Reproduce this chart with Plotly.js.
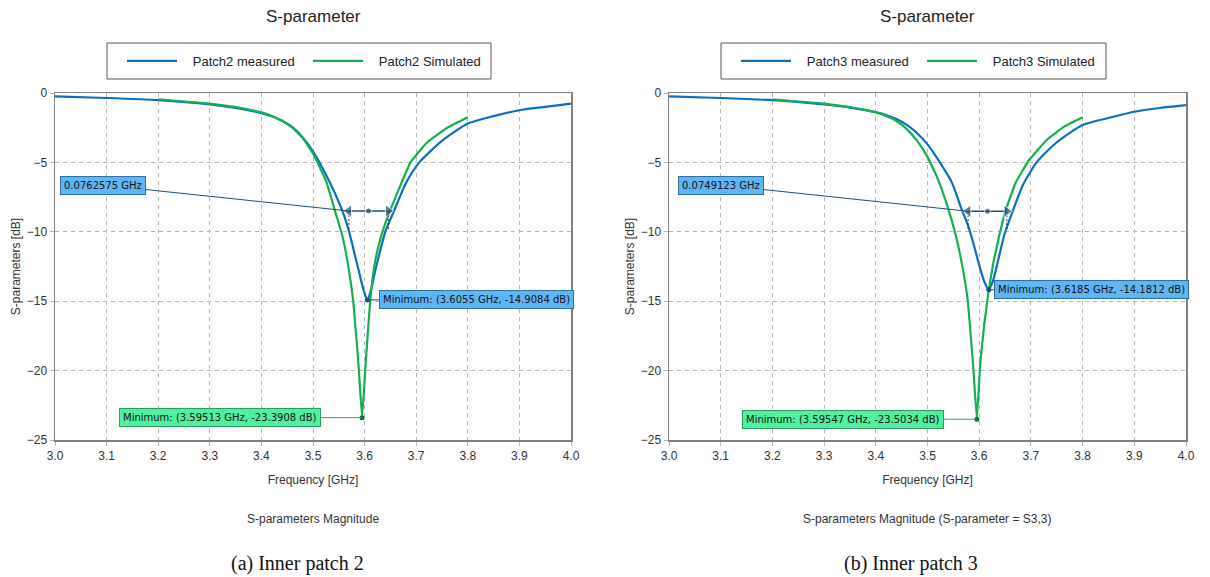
<!DOCTYPE html>
<html>
<head>
<meta charset="utf-8">
<script src="https://cdn.plot.ly/plotly-3.0.1.min.js"></script>
<style>html,body{margin:0;padding:0;background:#fff;}#chart{width:1210px;height:577px;}</style>
</head>
<body>
<div id="chart"></div>
<script>
// ---------------- data ----------------
const p2MeasFreq = [3.0,3.1,3.2,3.3,3.35,3.4,3.42,3.44,3.46,3.48,3.5,3.532,3.558,3.57,3.58,3.59,3.598,3.6055,3.613,3.62,3.63,3.64,3.657,3.68,3.706,3.75,3.8,3.85,3.9,3.95,4.0];
const p2MeasDb   = [-0.24,-0.36,-0.52,-0.83,-1.08,-1.45,-1.68,-2.0,-2.45,-3.2,-4.2,-6.4,-8.6,-10.0,-11.5,-13.0,-14.2,-14.9084,-14.1,-12.9,-11.4,-10.0,-8.5,-6.5,-5.0,-3.45,-2.2,-1.67,-1.24,-1.0,-0.76];
const p2SimFreq  = [3.2,3.3,3.35,3.4,3.42,3.44,3.46,3.48,3.5,3.526,3.545,3.557,3.568,3.578,3.588,3.59513,3.602,3.611,3.62,3.63,3.64,3.65,3.67,3.689,3.72,3.76,3.8];
const p2SimDb    = [-0.45,-0.76,-1.02,-1.4,-1.65,-2.0,-2.5,-3.25,-4.35,-6.4,-8.8,-10.3,-12.4,-15.0,-19.5,-23.3908,-19.5,-14.9,-12.2,-10.6,-9.4,-8.4,-6.6,-5.0,-3.6,-2.5,-1.74];

const p3MeasFreq = [3.0,3.1,3.2,3.3,3.35,3.4,3.42,3.44,3.46,3.48,3.5,3.524,3.547,3.566,3.578,3.59,3.6,3.61,3.6185,3.627,3.637,3.648,3.665,3.685,3.711,3.75,3.8,3.85,3.9,3.95,4.0];
const p3MeasDb   = [-0.24,-0.36,-0.52,-0.83,-1.05,-1.38,-1.58,-1.88,-2.3,-2.9,-3.7,-5.0,-6.44,-8.37,-9.5,-11.0,-12.4,-13.6,-14.1812,-13.5,-12.0,-10.3,-8.5,-6.6,-5.0,-3.55,-2.3,-1.8,-1.35,-1.08,-0.88];
const p3SimFreq  = [3.2,3.3,3.35,3.4,3.42,3.44,3.46,3.48,3.5,3.52,3.539,3.555,3.568,3.578,3.588,3.59547,3.602,3.61,3.6185,3.628,3.638,3.65,3.67,3.695,3.73,3.765,3.8];
const p3SimDb    = [-0.45,-0.76,-1.02,-1.4,-1.65,-2.02,-2.6,-3.45,-4.6,-6.2,-8.2,-10.3,-12.6,-15.0,-19.5,-23.5034,-19.5,-16.6,-14.2,-12.1,-10.4,-8.6,-6.5,-4.9,-3.4,-2.4,-1.74];

const seriesNames = [["Patch2 measured","Patch2 Simulated"],["Patch3 measured","Patch3 Simulated"]];
const measMin = [[3.6055,-14.9084],[3.6185,-14.1812]];
const simMin  = [[3.59513,-23.3908],[3.59547,-23.5034]];
const bwWidth  = [0.0762575,0.0749123];
const bwCenter = [3.6077,3.616];
const bwLevel  = [-8.5,-8.52];
const bwFloor  = [-9.8,-9.8];
const xTicks = [3.0,3.1,3.2,3.3,3.4,3.5,3.6,3.7,3.8,3.9,4.0];
const yTicks = [0,-5,-10,-15,-20,-25];
const subtitles = ["S-parameters Magnitude","S-parameters Magnitude (S-parameter = S3,3)"];
const captions = ["(a) Inner patch 2","(b) Inner patch 3"];
const chartTitle = "S-parameter";

// ---------------- styling ----------------
const W = 1210, H = 577;
const BLUE = "#0b6fc1", GREEN = "#12b04f", DARK = "#1b4f7c";
const BOXBLUE = "#5fb6f5", BOXGREEN = "#4ff0a0";
const font = "Liberation Sans, Arial, sans-serif";
const px = v => v / W, py = v => 1 - v / H;
const NB = "\u00a0\u00a0\u00a0";

const xDom = [[px(55), px(571)], [px(669), px(1186)]];
const yDom = [py(440), py(93)];

const meas = [[p2MeasFreq,p2MeasDb],[p3MeasFreq,p3MeasDb]];
const sims = [[p2SimFreq,p2SimDb],[p3SimFreq,p3SimDb]];

const traces = [];
const annotations = [];
const shapes = [];
const layout = {
  width: W, height: H,
  margin: {l:0,r:0,t:0,b:0,autoexpand:false},
  paper_bgcolor: "#fff", plot_bgcolor: "#fff",
  showlegend: true,
  font: {family: font, size: 12, color: "#333"},
  annotations, shapes
};

for (let i = 0; i < 2; i++) {
  const xa = i === 0 ? "x" : "x2", ya = i === 0 ? "y" : "y2";
  const xk = i === 0 ? "xaxis" : "xaxis2", yk = i === 0 ? "yaxis" : "yaxis2";
  const lg = i === 0 ? "legend" : "legend2";
  const common = {
    showline: true, mirror: true, linecolor: "#808080", linewidth: 1.5,
    showgrid: true, gridcolor: "#b5b5b5", griddash: "4px,4px", gridwidth: 1,
    zeroline: false, ticks: "outside", ticklen: 4, tickcolor: "#b5b5b5",
    tickfont: {family: font, size: 12, color: "#333"}, automargin: false, fixedrange: true
  };
  layout[xk] = Object.assign({}, common, {
    domain: xDom[i], anchor: ya, range: [3.0, 4.0], tickvals: xTicks,
    ticktext: xTicks.map(v => v.toFixed(1)),
    title: {text: "Frequency [GHz]", font: {family: font, size: 12, color: "#333"}, standoff: 13}
  });
  layout[yk] = Object.assign({}, common, {
    domain: yDom, anchor: xa, range: [-25, 0], tickvals: yTicks,
    title: {text: "S-parameters [dB]", font: {family: font, size: 12, color: "#333"}, standoff: 3}
  });
  layout[lg] = {
    orientation: "h", x: px(i === 0 ? 122 : 736), xanchor: "left",
    y: py(61), yanchor: "middle", bgcolor: "rgba(0,0,0,0)", borderwidth: 0,
    font: {family: font, size: 13, color: "#222"}, entrywidth: 121, entrywidthmode: "pixels",
    itemwidth: 50, tracegroupgap: 0
  };
  shapes.push({type: "rect", xref: "paper", yref: "paper",
    x0: px(i === 0 ? 107 : 721), x1: px(i === 0 ? 491 : 1106), y0: py(79), y1: py(43),
    line: {color: "#555", width: 1}, fillcolor: "rgba(0,0,0,0)"});

  traces.push({x: meas[i][0], y: meas[i][1], xaxis: xa, yaxis: ya, legend: lg, name: NB + seriesNames[i][0],
    type: "scatter", mode: "lines", line: {color: BLUE, width: 2.2, shape: "spline", smoothing: 0.6}});
  traces.push({x: sims[i][0], y: sims[i][1], xaxis: xa, yaxis: ya, legend: lg, name: NB + seriesNames[i][1],
    type: "scatter", mode: "lines", line: {color: GREEN, width: 2.2, shape: "spline", smoothing: 0.3}});

  // bandwidth marker
  const l = bwCenter[i] - bwWidth[i] / 2, r = bwCenter[i] + bwWidth[i] / 2;
  traces.push({x: [l, l, null, r, r], y: [bwLevel[i], bwFloor[i], null, bwLevel[i], bwFloor[i]],
    xaxis: xa, yaxis: ya, showlegend: false, hoverinfo: "skip", mode: "lines",
    line: {color: "#333", width: 1, dash: "2px,2px"}});
  traces.push({x: [l, bwCenter[i], r], y: [bwLevel[i], bwLevel[i], bwLevel[i]], xaxis: xa, yaxis: ya,
    showlegend: false, hoverinfo: "skip", mode: "lines+markers",
    line: {color: DARK, width: 1.5},
    marker: {symbol: ["triangle-left", "circle", "triangle-right"], size: [11, 6, 11], color: DARK}});
  // minimum points
  traces.push({x: [measMin[i][0]], y: [measMin[i][1]], xaxis: xa, yaxis: ya, showlegend: false,
    mode: "markers", marker: {color: DARK, size: 5}, hoverinfo: "skip"});
  traces.push({x: [simMin[i][0]], y: [simMin[i][1]], xaxis: xa, yaxis: ya, showlegend: false,
    mode: "markers", marker: {color: "#0e6b32", size: 5}, hoverinfo: "skip"});

  const boxFont = {family: "DejaVu Sans, sans-serif", size: 10, color: "#111"};
  annotations.push({xref: xa, yref: ya, axref: xa, ayref: ya, x: l, y: bwLevel[i],
    ax: i === 0 ? 3.093 : 3.1006, ay: -6.63,
    text: bwWidth[i] + " GHz", showarrow: true, arrowhead: 0, arrowwidth: 1, arrowcolor: DARK,
    bgcolor: BOXBLUE, bordercolor: "#2d6f9e", borderwidth: 1, borderpad: 3, font: boxFont});
  annotations.push({xref: xa, yref: ya, axref: xa, ayref: ya, x: measMin[i][0], y: measMin[i][1],
    ax: i === 0 ? 3.816 : 3.818, ay: measMin[i][1] + (i === 0 ? 0.05 : 0.06),
    text: "Minimum: (" + measMin[i][0] + " GHz, " + measMin[i][1] + " dB)", showarrow: true, arrowhead: 0,
    arrowwidth: 1, arrowcolor: DARK, bgcolor: BOXBLUE, bordercolor: "#2d6f9e", borderwidth: 1, borderpad: 3, font: boxFont});
  annotations.push({xref: xa, yref: ya, axref: xa, ayref: ya, x: simMin[i][0], y: simMin[i][1],
    ax: i === 0 ? 3.320 : 3.3366, ay: simMin[i][1],
    text: "Minimum: (" + simMin[i][0] + " GHz, " + simMin[i][1] + " dB)", showarrow: true, arrowhead: 0,
    arrowwidth: 1, arrowcolor: "#3aa064", bgcolor: BOXGREEN, bordercolor: "#2f9a5c", borderwidth: 1, borderpad: 3, font: boxFont});

  const cx = i === 0 ? px(313) : px(927);
  annotations.push({xref: "paper", yref: "paper", x: cx, y: py(17), xanchor: "center", yanchor: "middle", showarrow: false,
    text: chartTitle, font: {family: font, size: 17, color: "#222"}});
  annotations.push({xref: "paper", yref: "paper", x: cx, y: py(519), xanchor: "center", yanchor: "middle", showarrow: false,
    text: subtitles[i], font: {family: font, size: 12, color: "#333"}});
  annotations.push({xref: "paper", yref: "paper", x: i === 0 ? px(297) : px(911), y: py(563), xanchor: "center", yanchor: "middle",
    showarrow: false, text: captions[i], font: {family: "Liberation Serif, serif", size: 20, color: "#111"}});
}

Plotly.newPlot("chart", traces, layout, {staticPlot: true, displayModeBar: false});
</script>
</body>
</html>
